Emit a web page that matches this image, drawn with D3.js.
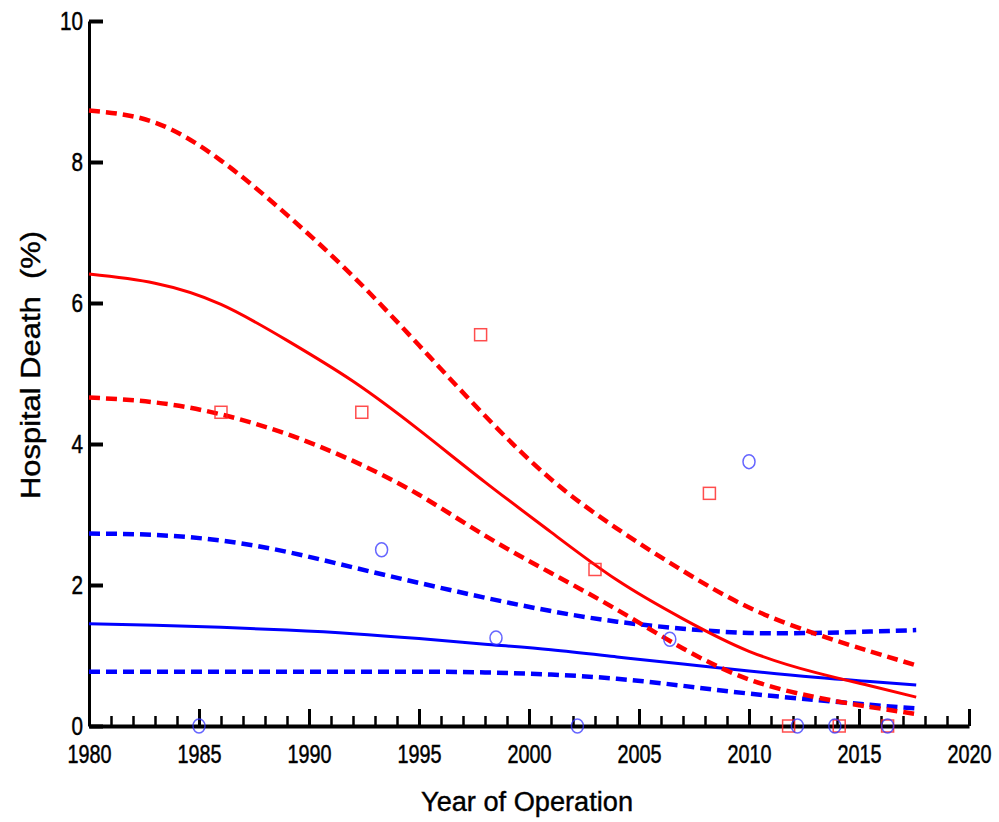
<!DOCTYPE html>
<html>
<head>
<meta charset="utf-8">
<script src="https://cdn.jsdelivr.net/npm/d3@7"></script>
<style>
  body { margin: 0; background: #fff; }
  .tickText { font-family: "Liberation Sans", Arial, sans-serif; font-size: 26px; stroke: #000; stroke-width: 0.5px; }
  .axisTitle { font-family: "Liberation Sans", Arial, sans-serif; font-size: 27px; white-space: pre; stroke: #000; stroke-width: 0.4px; }
</style>
</head>
<body>
<div id="chart"></div>
<script>
// sampled years for the fitted curves
var curveYears = [1980, 1983, 1986, 1989, 1992, 1995, 1998, 2001, 2004, 2007, 2010, 2013, 2015.5, 2017.6];

// red group (squares) - fit and 95% band
var redFit   = [6.41, 6.28, 5.98, 5.47, 4.89, 4.20, 3.46, 2.75, 2.07, 1.52, 1.06, 0.76, 0.57, 0.41];
var redUpper = [8.73, 8.56, 8.02, 7.25, 6.38, 5.40, 4.40, 3.50, 2.80, 2.20, 1.68, 1.31, 1.06, 0.86];
var redLower = [4.66, 4.59, 4.42, 4.14, 3.76, 3.28, 2.70, 2.17, 1.65, 1.10, 0.66, 0.41, 0.27, 0.17];

// blue group (circles) - fit and 95% band
var blueFit   = [1.45, 1.43, 1.40, 1.36, 1.31, 1.24, 1.16, 1.08, 0.98, 0.88, 0.78, 0.69, 0.63, 0.58];
var blueUpper = [2.73, 2.71, 2.63, 2.47, 2.25, 2.03, 1.82, 1.63, 1.48, 1.38, 1.32, 1.32, 1.34, 1.36];
var blueLower = [0.77, 0.77, 0.77, 0.77, 0.77, 0.77, 0.76, 0.73, 0.67, 0.57, 0.46, 0.37, 0.30, 0.25];

// observed yearly values
var redPtYears  = [1986.0, 1992.4, 1997.8, 2003.0, 2008.2, 2011.8, 2014.1, 2016.3];
var redPtValues = [4.45, 4.45, 5.55, 2.22, 3.30, 0, 0, 0];
var bluePtYears  = [1985.0, 1993.3, 1998.5, 2002.2, 2006.4, 2010.0, 2012.2, 2013.9, 2016.3];
var bluePtValues = [0, 2.50, 1.25, 0, 1.23, 3.75, 0, 0, 0];

var xTicks = [1980, 1985, 1990, 1995, 2000, 2005, 2010, 2015, 2020];
var yTicks = [0, 2, 4, 6, 8, 10];

var svgWidth = 999;
var svgHeight = 822;
var margin = { top: 21, left: 89, right: 30, bottom: 96 };
var width = 880;
var height = 705;

var svg = d3.select("#chart")
    .append("svg")
    .attr("width", svgWidth)
    .attr("height", svgHeight);

var chartGroup = svg.append("g")
    .attr("transform", `translate(${margin.left}, ${margin.top})`);

var xScale = d3.scaleLinear().domain([1980, 2020]).range([0, width]);
var yScale = d3.scaleLinear().domain([0, 10]).range([height, 0]);

// minor year ticks
chartGroup.append("g")
    .attr("transform", `translate(0, ${height})`)
    .call(d3.axisBottom(xScale).tickValues(d3.range(1981, 2020)).tickSizeInner(-10).tickSizeOuter(0).tickFormat(""))
    .call(g => g.select(".domain").remove())
    .call(g => g.selectAll(".tick line").attr("stroke", "#000").attr("stroke-width", 2.5));

// x axis
var xAxis = chartGroup.append("g")
    .attr("transform", `translate(0, ${height})`)
    .call(d3.axisBottom(xScale).tickValues(xTicks).tickSizeInner(-17).tickSizeOuter(0).tickPadding(19).tickFormat(d3.format("d")));
xAxis.select(".domain").attr("stroke", "#000").attr("stroke-width", 4);
xAxis.selectAll(".tick line").attr("stroke", "#000").attr("stroke-width", 3);
xAxis.selectAll(".tick text")
    .attr("class", "tickText")
    .attr("fill", "#000").attr("font-size", null).attr("font-family", null)
    .attr("textLength", 44)
    .attr("lengthAdjust", "spacingAndGlyphs");

// y axis
var yAxis = chartGroup.append("g")
    .call(d3.axisLeft(yScale).tickValues(yTicks).tickSizeInner(-14).tickSizeOuter(0).tickPadding(6));
yAxis.select(".domain").attr("stroke", "#000").attr("stroke-width", 3);
yAxis.selectAll(".tick line").attr("stroke", "#000").attr("stroke-width", 4);
yAxis.selectAll(".tick text")
    .attr("class", "tickText")
    .attr("fill", "#000").attr("font-size", null).attr("font-family", null)
    .attr("textLength", d => String(d).length * 11.5)
    .attr("lengthAdjust", "spacingAndGlyphs");

var line = d3.line()
    .x(d => xScale(d[0]))
    .y(d => yScale(d[1]))
    .curve(d3.curveNatural);

function drawCurve(values, color, dashed) {
    chartGroup.append("path")
        .datum(curveYears.map((yr, i) => [yr, values[i]]))
        .attr("d", line)
        .attr("fill", "none")
        .attr("stroke", color)
        .attr("stroke-width", dashed ? 4.5 : 3)
        .attr("stroke-dasharray", dashed ? "11,6" : null);
}

drawCurve(blueUpper, "#0000ff", true);
drawCurve(blueLower, "#0000ff", true);
drawCurve(blueFit, "#0000ff", false);
drawCurve(redUpper, "#ff0000", true);
drawCurve(redLower, "#ff0000", true);
drawCurve(redFit, "#ff0000", false);

// observed points
chartGroup.selectAll(".redPt")
    .data(redPtYears)
    .enter()
    .append("rect")
    .attr("x", (d, i) => xScale(d) - 6)
    .attr("y", (d, i) => yScale(redPtValues[i]) - 6)
    .attr("width", 12)
    .attr("height", 12)
    .attr("fill", "none")
    .attr("stroke", "#ff2020")
    .attr("stroke-opacity", 0.8)
    .attr("stroke-width", 1.5);

chartGroup.selectAll(".bluePt")
    .data(bluePtYears)
    .enter()
    .append("ellipse")
    .attr("cx", d => xScale(d))
    .attr("cy", (d, i) => yScale(bluePtValues[i]))
    .attr("rx", 6)
    .attr("ry", 7)
    .attr("fill", "none")
    .attr("stroke", "#3333ff")
    .attr("stroke-opacity", 0.75)
    .attr("stroke-width", 1.5);

// axis titles
svg.append("text")
    .attr("class", "axisTitle")
    .attr("x", 527)
    .attr("y", 811)
    .attr("text-anchor", "middle")
    .attr("textLength", 212)
    .attr("lengthAdjust", "spacingAndGlyphs")
    .text("Year of Operation");

svg.append("g")
    .attr("transform", "translate(40, 365)")
    .append("text")
    .attr("class", "axisTitle")
    .attr("transform", "rotate(-90)")
    .attr("text-anchor", "middle")
    .attr("textLength", 268)
    .attr("lengthAdjust", "spacingAndGlyphs")
    .text("Hospital Death  (%)");
</script>
</body>
</html>
